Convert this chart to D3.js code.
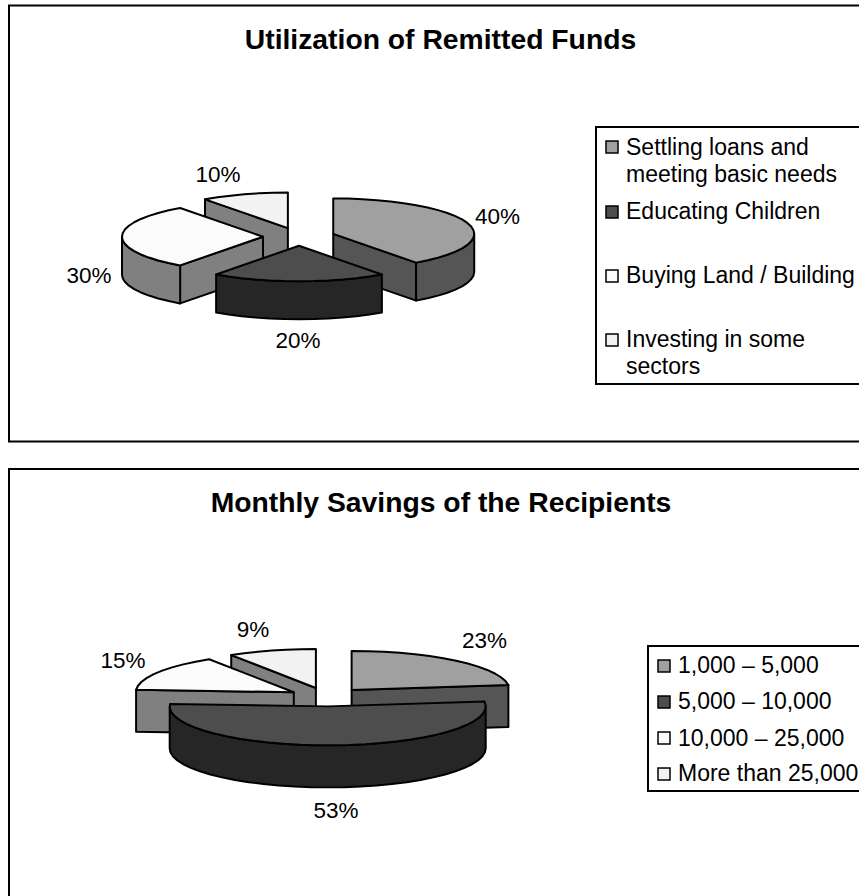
<!DOCTYPE html>
<html><head><meta charset="utf-8">
<script src="https://cdnjs.cloudflare.com/ajax/libs/d3/7.8.5/d3.min.js"></script>
<style>html,body{margin:0;padding:0;background:#fff;overflow:hidden}svg{display:block}text{font-family:"Liberation Sans",Arial,sans-serif;fill:#000}</style>
</head><body><svg id="c" width="859" height="896"></svg>
<script>
const usageCategories = ["Settling loans and|meeting basic needs","Educating Children","Buying Land / Building","Investing in some|sectors"];
const usageValues = [40,20,30,10];
const savingsCategories = ["1,000 – 5,000","5,000 – 10,000","10,000 – 25,000","More than 25,000"];
const savingsValues = [23,53,15,9];
const topColors = ["#a0a0a0","#4d4d4d","#fbfbfb","#f2f2f2"];
const sideColors = ["#555555","#262626","#808080","#808080"];

const svg = d3.select("#c");
const toRad = Math.PI/180;
const line = d3.line();

function drawPie(values, o){
  const arcs = d3.pie().sort(null).value(d=>d)(values).map((a,i)=>({...a,i}));
  const mid = a => (a.startAngle+a.endAngle)/2;
  const order = arcs.slice().sort((p,q)=>Math.abs(mid(q)-Math.PI)-Math.abs(mid(p)-Math.PI));
  const g = svg.append("g");
  order.forEach(a=>{
    const cx = o.cx + o.e*Math.sin(mid(a));
    const cy = o.cy - o.e*Math.cos(mid(a))*o.ry/o.rx;
    const P = (t,dz=0)=>[cx+o.rx*Math.sin(t), cy-o.ry*Math.cos(t)+dz];
    const samples = (t0,t1)=>{const n=Math.max(2,Math.ceil((t1-t0)/(6*toRad)));return d3.range(n+1).map(k=>t0+(t1-t0)*k/n);};
    const s = {fill:sideColors[a.i],stroke:"#000","stroke-width":2,"stroke-linejoin":"round"};
    const add = pts=>{const p=g.append("path").attr("d",line(pts)+"Z");Object.entries(s).forEach(([k,v])=>p.attr(k,v));};
    if(Math.sin(a.startAngle)<-1e-6) add([[cx,cy],P(a.startAngle),P(a.startAngle,o.depth),[cx,cy+o.depth]]);
    if(Math.sin(a.endAngle)>1e-6) add([[cx,cy],P(a.endAngle),P(a.endAngle,o.depth),[cx,cy+o.depth]]);
    const t0=Math.max(a.startAngle,Math.PI/2), t1=Math.min(a.endAngle,Math.PI*1.5);
    if(t1>t0){
      const ts=samples(t0,t1);
      add(ts.map(t=>P(t)).concat(ts.slice().reverse().map(t=>P(t,o.depth))));
    }
    g.append("path").attr("d",line([[cx,cy]].concat(samples(a.startAngle,a.endAngle).map(t=>P(t))))+"Z")
      .attr("fill",topColors[a.i]).attr("stroke","#000").attr("stroke-width",2).attr("stroke-linejoin","round");
  });
}

function frame(x,y,w,h){
  svg.append("rect").attr("x",x).attr("y",y).attr("width",w).attr("height",h).attr("fill","#fff").attr("stroke","#000").attr("stroke-width",2);
}
function texts(items,size,weight,anchor){
  items.forEach(d=>svg.append("text").attr("x",d[0]).attr("y",d[1]).attr("font-size",size).attr("font-weight",weight).attr("text-anchor",anchor).text(d[2]));
}
function legend(cats,box,swY,baseY,swX,txtX,lineH){
  frame(box[0],box[1],box[2],box[3]);
  cats.forEach((c,i)=>{
    svg.append("rect").attr("x",swX).attr("y",swY[i]-6).attr("width",12).attr("height",12).attr("fill",topColors[i]).attr("stroke","#000").attr("stroke-width",1.5);
    c.split("|").forEach((t,j)=>svg.append("text").attr("x",txtX).attr("y",baseY[i]+j*lineH).attr("font-size",LEG).text(t));
  });
}
const LEG = 23, LAB = 22.5;

frame(9,5.5,900,436);
frame(9,469,900,500);

texts([[440.5,49,"Utilization of Remitted Funds"],[441,512,"Monthly Savings of the Recipients"]],28.3,"bold","middle");

drawPie(usageValues,{cx:299,cy:236.7,e:36,rx:141,ry:35.5,depth:38});
drawPie(savingsValues,{cx:326.5,cy:697,e:38,rx:158,ry:39,depth:42});

texts(usageValues.map((v,i)=>[[497.5,224],[298,348],[89,283],[218,182]][i].concat(v+"%")),LAB,"normal","middle");
texts(savingsValues.map((v,i)=>[[484.5,648],[336,818],[123,668],[253,637]][i].concat(v+"%")),LAB,"normal","middle");

legend(usageCategories,[596,127,300,257],[147,212,276,340],[155,219,283,347],606,626,27);
legend(savingsCategories,[648,646,300,145],[666,702,738,774],[673,709,746,781],658,678,0);
</script></body></html>
